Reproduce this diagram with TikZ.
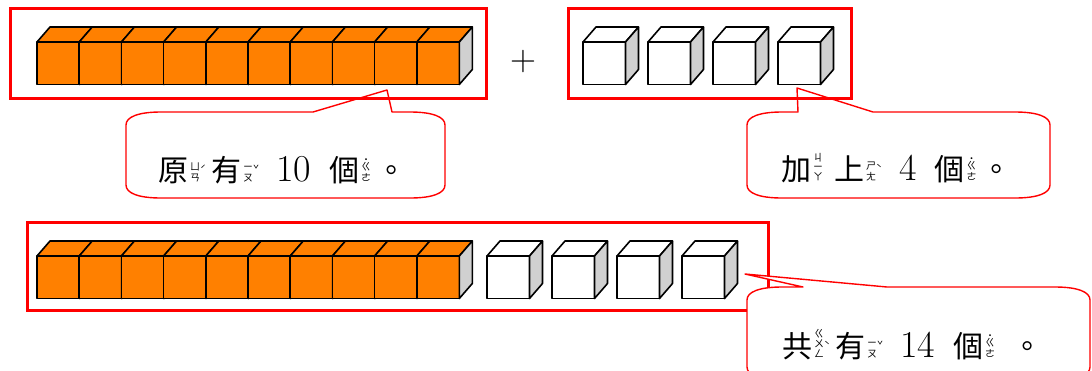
\documentclass[tikz,border=0pt]{standalone}
\usepackage{fontspec}
\newfontfamily\cjk{Noto Sans CJK TC}
\usetikzlibrary{positioning}

\definecolor{boxred}{RGB}{255,0,0}
\definecolor{rodorange}{RGB}{255,128,0}
\definecolor{sidegray}{RGB}{208,208,208}

% zhuyin beside a character: stacked symbols, tone mark
\newcommand{\zy}[2]{\hspace{2pt}{\fontsize{10}{9.5}\selectfont\begin{tabular}[b]{@{}c@{}}#1\end{tabular}\raisebox{8pt}{#2}}\hspace{5pt}}
% big digits
\newcommand{\digits}[1]{\hspace{12pt}{\fontfamily{lmr}\fontsize{38}{38}\selectfont #1}\hspace{18pt}}

% one cube: left x, top y of the front face, fill
\newcommand{\cube}[3]{%
  \filldraw[cubeline, fill=#3] ({#1},#2) rectangle ++(42.5,42.5);
  \filldraw[cubeline, fill=#3] ({#1},#2) -- ++(13,-15) -- ++(42.5,0) -- ++(-13,15) -- cycle;
  \filldraw[cubeline, fill=sidegray] ({#1+42.5},#2) -- ++(13,-15) -- ++(0,42.5) -- ++(-13,15) -- cycle;}

% speech bubble: left, top, right, bottom, pointer base 1, tip x, tip y, pointer base 2
\newcommand{\bubble}[8]{%
  \filldraw[bubbleline] (#5,#2) -- (#6,#7) -- (#8,#2) -- ({#3-35},#2)
    .. controls ({#3-12},#2) and (#3,{#2+5}) .. (#3,{#2+13}) -- (#3,{#4-13})
    .. controls (#3,{#4-5}) and ({#3-12},#4) .. ({#3-35},#4) -- ({#1+35},#4)
    .. controls ({#1+12},#4) and (#1,{#4-5}) .. (#1,{#4-13}) -- (#1,{#2+13})
    .. controls (#1,{#2+5}) and ({#1+12},#2) .. ({#1+35},#2) -- cycle;}

\begin{document}
\begin{tikzpicture}
[x=1pt, y=-1pt,
% STYLES
% The red frames round each group of cubes
redbox/.style={rectangle, draw=boxred, line width=3pt, inner sep=0pt},
% The outline of the cubes
cubeline/.style={draw=black, line width=1.6pt, line join=round},
% The speech bubbles
bubbleline/.style={draw=boxred, fill=white, line width=1.4pt, line join=round},
% The text in the bubbles
say/.style={inner sep=0pt, anchor=base west, font=\cjk\fontsize{30}{30}\selectfont}]

\useasboundingbox (0,0) rectangle (1092,370);

% Bubbles under the frames
\bubble{126}{112}{445}{198}{313}{387}{90}{392}
\bubble{747}{112}{1050}{198}{798}{797}{88}{873}

% Draw frames
\node [redbox, minimum width=476pt, minimum height=90pt] (orig) at (248,53) {};
\node [redbox, minimum width=283pt, minimum height=90pt] (added) at (709.5,53) {};
\node [redbox, minimum width=741pt, minimum height=88pt] (total) at (397.5,266) {};
\node [font=\fontsize{36}{36}\selectfont] (plus) at (523,62) {+};

% Cubes: the rod of ten and the single ones
\foreach \i in {0,...,9} {\cube{37+42.2*\i}{42}{rodorange}}
\foreach \x in {583,648,713,778} {\cube{\x}{42}{white}}
\foreach \i in {0,...,9} {\cube{37+42.2*\i}{256}{rodorange}}
\foreach \x in {487,552,617,682} {\cube{\x}{256}{white}}

% Bubble over the last frame
\bubble{747}{287}{1090}{380}{803}{745}{274}{887}

% Texts
\node [say] (say-orig) at (158,181)
  {原\zy{ㄩ\\ㄢ}{ˊ}有\zy{ㄧ\\ㄡ}{ˇ}\digits{10}個\zy{˙\\[-4pt]ㄍ\\ㄜ}{}。};
\node [say] (say-added) at (781,180)
  {加\zy{ㄐ\\[-1pt]ㄧ\\[-1pt]ㄚ}{}\hspace{6pt}上\zy{ㄕ\\ㄤ}{ˋ}\digits{4}個\zy{˙\\[-4pt]ㄍ\\ㄜ}{}。};
\node [say] (say-total) at (782,357)
  {共\zy{ㄍ\\[-1pt]ㄨ\\[-1pt]ㄥ}{ˋ}有\zy{ㄧ\\ㄡ}{ˇ}\digits{14}個\zy{˙\\[-4pt]ㄍ\\ㄜ}{}\hspace{12pt}。};

\end{tikzpicture}
\end{document}
